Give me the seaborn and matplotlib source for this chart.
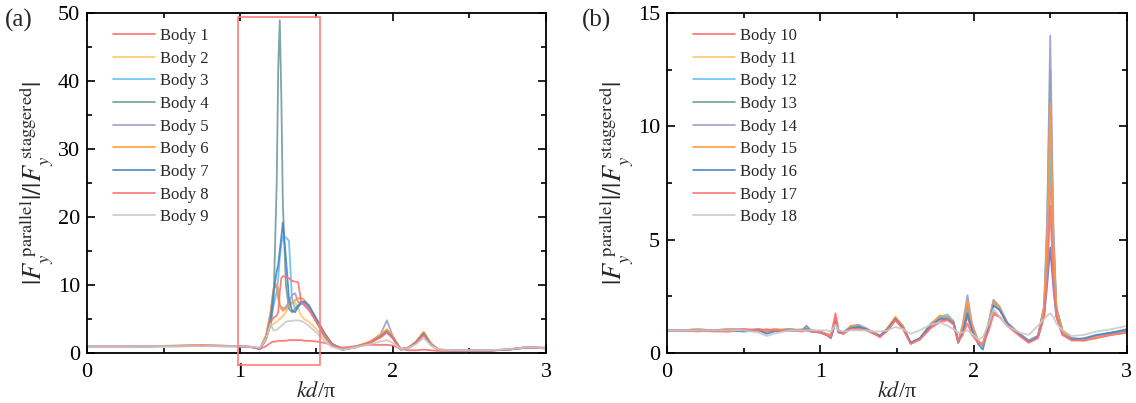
import numpy as np
import pandas as pd
import matplotlib
matplotlib.use("Agg")
import matplotlib.pyplot as plt
import seaborn as sns
from matplotlib.patches import Rectangle
from matplotlib.ticker import MultipleLocator

# ---- panel (a): bodies 1-9 ----
xa = [0.0, 0.2, 0.4, 0.6, 0.75,
      0.9, 1.0, 1.08, 1.13, 1.17,
      1.20, 1.22, 1.24, 1.25, 1.26,
      1.27, 1.28, 1.30, 1.32, 1.34,
      1.36, 1.38, 1.40, 1.42, 1.45,
      1.50, 1.55, 1.60, 1.67, 1.75,
      1.85, 1.92, 1.96, 2.00, 2.05,
      2.10, 2.15, 2.20, 2.25, 2.30,
      2.45, 2.60, 2.75, 2.88, 3.0]

body_1 = [1.0, 1.0, 1.0, 1.05, 1.1,
          1.05, 1.0, 0.9, 0.6, 1.0,
          1.5, 1.7, 1.7, 1.8, 1.8,
          1.8, 1.8, 1.8, 1.9, 1.9,
          1.9, 1.9, 1.9, 1.8, 1.8,
          1.7, 1.5, 1.2, 0.8, 1.0,
          1.2, 1.2, 1.2, 1.1, 0.6,
          0.4, 0.4, 0.5, 0.4, 0.3,
          0.3, 0.3, 0.5, 0.9, 0.8]
body_2 = [1.0, 1.0, 1.0, 1.1, 1.15,
          1.1, 1.0, 0.9, 0.7, 2.0,
          4.0, 4.3, 4.6, 4.8, 5.0,
          5.2, 5.4, 6.0, 6.8, 7.3,
          7.5, 6.5, 5.5, 5.0, 4.6,
          3.5, 2.2, 1.0, 0.5, 0.9,
          1.6, 2.6, 3.4, 2.3, 0.6,
          0.8, 1.6, 3.0, 1.3, 0.5,
          0.35, 0.35, 0.5, 0.8, 0.7]
body_3 = [1.0, 1.0, 0.95, 1.05, 1.1,
          1.0, 1.0, 0.85, 0.6, 2.0,
          4.5, 7.0, 9.0, 11.0, 14.0,
          16.0, 17.2, 17.0, 16.5, 8.0,
          6.5, 6.8, 7.2, 7.5, 6.8,
          4.8, 2.8, 1.3, 0.5, 0.85,
          1.5, 2.4, 3.2, 2.2, 0.5,
          0.7, 1.5, 2.9, 1.2, 0.45,
          0.35, 0.35, 0.5, 0.8, 0.7]
body_4 = [1.0, 1.0, 1.0, 1.0, 1.05,
          1.0, 1.0, 0.9, 0.7, 2.5,
          4.0, 8.0, 25.0, 42.0, 48.9,
          38.0, 22.0, 10.0, 6.5, 6.0,
          6.5, 7.0, 7.5, 7.3, 6.5,
          4.5, 2.5, 1.2, 0.5, 0.9,
          1.6, 2.5, 3.3, 2.2, 0.6,
          0.8, 1.6, 3.0, 1.3, 0.5,
          0.35, 0.35, 0.5, 0.85, 0.7]
body_5 = [1.0, 1.0, 1.0, 1.05, 1.1,
          1.05, 1.0, 0.85, 0.6, 2.5,
          6.0, 9.5, 9.8, 8.0, 7.0,
          6.8, 6.5, 6.8, 7.5, 8.5,
          8.8, 7.5, 7.3, 7.2, 6.6,
          4.8, 2.8, 1.3, 0.5, 0.9,
          1.6, 2.8, 4.8, 2.4, 0.6,
          0.8, 1.6, 3.1, 1.3, 0.5,
          0.35, 0.35, 0.5, 0.85, 0.7]
body_6 = [1.0, 1.0, 1.0, 1.1, 1.15,
          1.05, 1.0, 0.85, 0.6, 2.5,
          6.0, 9.5, 10.1, 9.5, 7.0,
          6.5, 6.2, 6.5, 7.0, 7.5,
          7.8, 8.0, 8.1, 7.8, 7.0,
          5.0, 3.0, 1.4, 0.5, 0.9,
          1.7, 2.7, 3.5, 2.4, 0.6,
          0.8, 1.7, 3.1, 1.4, 0.5,
          0.35, 0.35, 0.5, 0.85, 0.7]
body_7 = [1.0, 1.0, 1.0, 1.0, 1.05,
          1.0, 1.0, 0.85, 0.6, 2.0,
          5.0, 9.0, 12.0, 13.0, 15.0,
          17.0, 19.2, 14.0, 8.0, 6.2,
          6.0, 6.8, 7.5, 7.6, 7.0,
          5.0, 3.0, 1.4, 0.5, 0.8,
          1.5, 2.4, 3.1, 2.2, 0.5,
          0.7, 1.5, 2.8, 1.2, 0.45,
          0.35, 0.35, 0.5, 0.8, 0.7]
body_8 = [1.0, 1.0, 1.0, 1.05, 1.1,
          1.05, 1.0, 0.9, 0.65, 2.0,
          4.5, 5.2, 5.5, 6.0, 9.0,
          11.0, 11.3, 11.2, 11.0, 10.6,
          10.5, 10.4, 7.5, 7.0, 6.3,
          4.6, 2.8, 1.3, 0.5, 0.8,
          1.5, 2.3, 3.0, 2.1, 0.5,
          0.7, 1.4, 2.6, 1.1, 0.45,
          0.35, 0.35, 0.55, 0.85, 0.7]
body_9 = [1.0, 1.0, 1.0, 1.0, 1.0,
          1.0, 1.0, 0.9, 0.8, 2.0,
          4.3, 3.3, 3.4, 3.6, 3.8,
          4.0, 4.2, 4.6, 4.7, 4.7,
          4.8, 4.8, 4.7, 4.5, 4.0,
          3.0, 1.8, 0.9, 0.5, 0.8,
          1.3, 1.7, 1.9, 1.5, 0.6,
          0.7, 1.3, 2.2, 1.1, 0.5,
          0.4, 0.4, 0.55, 0.85, 0.75]

# ---- panel (b): bodies 10-18 ----
xb = [0.0, 0.1, 0.2, 0.3, 0.4,
      0.5, 0.6, 0.65, 0.7, 0.8,
      0.88, 0.91, 0.94, 1.0, 1.04,
      1.07, 1.10, 1.12, 1.15, 1.20,
      1.25, 1.30, 1.35, 1.39, 1.44,
      1.49, 1.54, 1.59, 1.65, 1.72,
      1.78, 1.83, 1.87, 1.90, 1.93,
      1.96, 1.99, 2.03, 2.06, 2.10,
      2.13, 2.17, 2.22, 2.30, 2.36,
      2.42, 2.46, 2.48, 2.50, 2.52,
      2.54, 2.58, 2.64, 2.72, 2.80,
      2.90, 3.0]

body_10 = [1.0, 1.0, 1.0, 0.95, 0.95,
           1.0, 1.05, 1.0, 1.05, 1.0,
           1.0, 1.0, 0.95, 0.95, 0.85,
           0.8, 1.75, 1.0, 0.9, 1.1,
           1.1, 1.0, 0.9, 0.75, 1.0,
           1.45, 1.1, 0.45, 0.6, 1.1,
           1.4, 1.5, 1.3, 0.6, 0.9,
           1.6, 1.0, 0.5, 0.4, 1.2,
           1.8, 1.6, 1.2, 0.8, 0.5,
           0.7, 1.8, 3.8, 8.2, 3.6,
           1.8, 0.9, 0.6, 0.55, 0.7,
           0.85, 0.9]
body_11 = [1.0, 1.0, 1.0, 1.0, 1.05,
           1.05, 1.0, 0.95, 1.0, 1.05,
           1.0, 1.05, 1.0, 0.95, 0.8,
           0.75, 1.4, 0.95, 0.85, 1.2,
           1.15, 1.05, 0.9, 0.75, 1.1,
           1.55, 1.15, 0.45, 0.65, 1.25,
           1.65, 1.6, 1.3, 0.5, 1.1,
           2.0, 1.1, 0.55, 0.35, 1.3,
           2.1, 1.9, 1.3, 0.85, 0.55,
           0.75, 2.0, 4.8, 10.0, 4.6,
           2.0, 1.0, 0.65, 0.6, 0.7,
           0.85, 0.95]
body_12 = [1.0, 1.0, 1.05, 1.0, 1.0,
           1.0, 1.0, 0.9, 1.0, 1.05,
           1.0, 1.1, 1.0, 0.95, 0.8,
           0.7, 1.35, 0.9, 0.85, 1.15,
           1.15, 1.05, 0.9, 0.75, 1.1,
           1.5, 1.1, 0.45, 0.65, 1.3,
           1.6, 1.7, 1.4, 0.5, 1.0,
           1.9, 1.1, 0.5, 0.3, 1.3,
           2.15, 1.9, 1.3, 0.85, 0.55,
           0.75, 1.9, 4.5, 9.0, 4.3,
           1.9, 0.95, 0.65, 0.6, 0.75,
           0.9, 1.0]
body_13 = [1.0, 1.0, 1.0, 1.0, 1.0,
           1.0, 1.05, 1.0, 1.0, 1.05,
           1.0, 1.2, 1.0, 0.95, 0.8,
           0.7, 1.4, 0.9, 0.9, 1.15,
           1.2, 1.05, 0.9, 0.75, 1.1,
           1.55, 1.15, 0.45, 0.65, 1.25,
           1.55, 1.6, 1.35, 0.5, 1.1,
           2.2, 1.2, 0.5, 0.35, 1.35,
           2.3, 2.0, 1.3, 0.85, 0.55,
           0.75, 2.0, 5.5, 12.5, 5.3,
           2.0, 1.0, 0.65, 0.6, 0.75,
           0.9, 1.0]
body_14 = [1.0, 1.0, 1.0, 1.0, 1.05,
           1.05, 1.0, 0.95, 1.0, 1.0,
           1.0, 1.05, 1.0, 0.95, 0.8,
           0.75, 1.4, 1.0, 0.9, 1.2,
           1.25, 1.1, 0.9, 0.75, 1.1,
           1.55, 1.2, 0.45, 0.6, 1.2,
           1.55, 1.6, 1.3, 0.5, 1.3,
           2.55, 1.3, 0.55, 0.35, 1.4,
           2.35, 2.05, 1.35, 0.85, 0.55,
           0.75, 2.1, 6.0, 14.0, 5.8,
           2.0, 1.0, 0.65, 0.6, 0.7,
           0.85, 0.95]
body_15 = [1.0, 1.0, 1.05, 1.0, 1.05,
           1.0, 1.0, 0.95, 1.05, 1.0,
           1.05, 1.0, 1.0, 0.95, 0.8,
           0.75, 1.45, 1.0, 0.85, 1.2,
           1.15, 1.05, 0.9, 0.7, 1.1,
           1.6, 1.2, 0.4, 0.6, 1.25,
           1.65, 1.6, 1.3, 0.45, 1.2,
           2.3, 1.2, 0.5, 0.35, 1.35,
           2.25, 2.0, 1.3, 0.8, 0.5,
           0.7, 2.0, 5.0, 11.0, 5.0,
           1.9, 0.95, 0.6, 0.55, 0.7,
           0.8, 0.9]
body_16 = [1.0, 1.0, 1.0, 1.0, 1.0,
           0.95, 1.0, 0.85, 0.95, 1.0,
           1.0, 1.05, 0.95, 0.9, 0.8,
           0.65, 1.4, 0.95, 0.9, 1.1,
           1.15, 1.05, 0.85, 0.75, 1.05,
           1.5, 1.1, 0.45, 0.65, 1.2,
           1.5, 1.5, 1.3, 0.45, 0.9,
           1.75, 1.0, 0.4, 0.15, 1.2,
           2.1, 1.9, 1.3, 0.8, 0.5,
           0.7, 1.6, 3.0, 4.65, 2.9,
           1.6, 0.8, 0.6, 0.65, 0.8,
           0.9, 1.05]
body_17 = [1.0, 1.0, 0.95, 1.0, 0.95,
           1.05, 1.0, 1.05, 1.0, 1.0,
           0.95, 1.0, 0.95, 0.9, 0.8,
           0.7, 1.6, 0.9, 0.85, 1.05,
           1.05, 1.0, 0.85, 0.7, 1.0,
           1.45, 1.05, 0.4, 0.6, 1.1,
           1.35, 1.45, 1.25, 0.5, 0.8,
           1.3, 0.8, 0.45, 0.35, 1.0,
           1.7, 1.6, 1.2, 0.75, 0.45,
           0.65, 1.6, 3.3, 6.5, 3.2,
           1.6, 0.8, 0.55, 0.55, 0.65,
           0.8, 0.9]
body_18 = [1.0, 1.0, 1.0, 1.0, 1.0,
           1.0, 0.9, 0.75, 0.85, 1.0,
           1.0, 1.0, 1.0, 1.0, 1.0,
           0.95, 1.25, 1.0, 0.95, 1.0,
           1.0, 1.0, 0.95, 0.95, 1.0,
           1.15, 1.05, 0.85, 1.0, 1.25,
           1.35, 1.2, 1.05, 0.9, 0.9,
           1.0, 0.85, 0.6, 0.7, 1.3,
           1.95, 1.6, 1.2, 0.9, 0.8,
           1.2, 1.5, 1.65, 1.75, 1.6,
           1.3, 1.0, 0.75, 0.8, 0.95,
           1.05, 1.2]

labels_a = [f"Body {i}" for i in range(1, 10)]
labels_b = [f"Body {i}" for i in range(10, 19)]
series_a = [body_1, body_2, body_3, body_4, body_5, body_6, body_7, body_8, body_9]
series_b = [body_10, body_11, body_12, body_13, body_14, body_15, body_16, body_17, body_18]

palette = ["#ff6f6f", "#ffc56e", "#62c2f5", "#6f9c98", "#9b9dcc",
           "#ff9b3a", "#4a84c4", "#ff7272", "#c9c9c9"]


def to_long(x, series, labels):
    frames = [pd.DataFrame({"x": x, "y": ys, "body": lab}) for ys, lab in zip(series, labels)]
    return pd.concat(frames, ignore_index=True)


df_a = to_long(xa, series_a, labels_a)
df_b = to_long(xb, series_b, labels_b)

sns.set_style("ticks")
plt.rcParams["font.family"] = ["Liberation Serif", "DejaVu Serif"]
plt.rcParams["mathtext.fontset"] = "stix"
plt.rcParams["xtick.direction"] = "in"
plt.rcParams["ytick.direction"] = "in"

fig = plt.figure(figsize=(11.36, 4.03), dpi=100)
ax_a = fig.add_axes([0.0766, 0.124, 0.404, 0.844])
ax_b = fig.add_axes([0.587, 0.124, 0.405, 0.844])

ylabel = r"$|F_y^{\ \mathrm{parallel}}|/|F_y^{\ \mathrm{staggered}}|$"

for ax, df, labels, ymax, ymaj, ymin_ in [
    (ax_a, df_a, labels_a, 50, 10, 5),
    (ax_b, df_b, labels_b, 15, 5, 2.5),
]:
    sns.lineplot(data=df, x="x", y="y", hue="body", hue_order=labels,
                 palette=palette, estimator=None, sort=False,
                 linewidth=1.3, alpha=0.9, ax=ax)
    ax.set_xlim(0, 3)
    ax.set_ylim(0, ymax)
    ax.xaxis.set_major_locator(MultipleLocator(1))
    ax.xaxis.set_minor_locator(MultipleLocator(0.5))
    ax.yaxis.set_major_locator(MultipleLocator(ymaj))
    ax.yaxis.set_minor_locator(MultipleLocator(ymin_))
    ax.tick_params(which="both", top=True, right=True, labelsize=16,
                   width=1.2, colors="black")
    ax.tick_params(which="major", length=6)
    ax.tick_params(axis="x", which="major", pad=7)
    ax.tick_params(axis="y", which="major", pad=5)
    ax.tick_params(which="minor", length=3.5)
    for sp in ax.spines.values():
        sp.set_linewidth(1.3)
        sp.set_color("black")
    ax.set_xlabel(r"$kd$/π", fontsize=16, labelpad=0)
    ax.set_ylabel(ylabel, fontsize=19, labelpad=2)
    handles, labs = ax.get_legend_handles_labels()
    ax.legend(handles, labs, loc="upper left", bbox_to_anchor=(0.035, 0.985),
              frameon=False, fontsize=12, handlelength=2.5, handletextpad=0.3,
              labelspacing=0.4, borderaxespad=0.2)
    for ln in ax.get_legend().get_lines():
        ln.set_linewidth(1.3)

# highlighted resonance window in panel (a)
ax_a.add_patch(Rectangle((0.99, -1.8), 0.535, 51.2, fill=False,
                         edgecolor="#ff7b7b", linewidth=1.2, clip_on=False, zorder=5))

fig.text(0.004, 0.95, "(a)", fontsize=18, ha="left", va="center")
fig.text(0.512, 0.95, "(b)", fontsize=18, ha="left", va="center")

fig.savefig("out.png", dpi=100)
